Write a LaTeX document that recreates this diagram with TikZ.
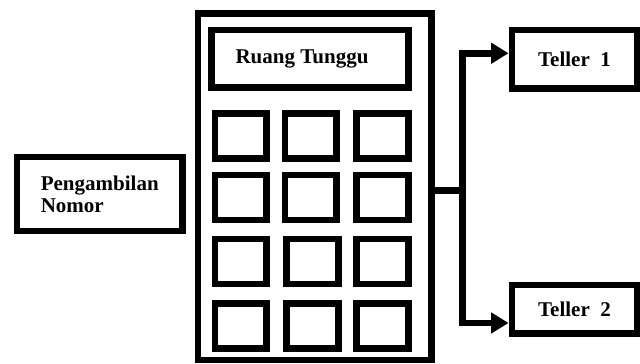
\documentclass[tikz,border=0pt]{standalone}
\usepackage{fontspec}
\setmainfont{Liberation Serif}
\usetikzlibrary{arrows.meta}
\tikzset{
  box/.style={draw, line width=5.2pt, rectangle, inner sep=0pt, font=\bfseries\fontsize{15.75}{16.5}\selectfont},
  cell/.style={draw, line width=4.9pt, rectangle, inner sep=0pt, minimum width=38.8pt, minimum height=33.75pt},
  conn/.style={line width=5.2pt},
  arr/.style={line width=5.2pt, -{Triangle[length=13pt,width=15pt]}}
}
\begin{document}
\begin{tikzpicture}[x=0.75pt,y=-0.75pt]
\useasboundingbox (0,0) rectangle (640,364);
% left box
\node[box, minimum width=124.1pt, minimum height=55.5pt, align=left] (ambil) at (99.75,194) {Pengambilan\\Nomor};
% big room
\node[box, minimum width=175.1pt, minimum height=259.9pt] (ruang) at (314.75,186.75) {};
\node[box, minimum width=147.75pt, minimum height=43.1pt] (tunggu) at (310,58.75) {Ruang Tunggu\hspace*{12pt}};
% seats
\node[cell] (c11) at (240.85,135.8) {};
\node[cell] (c12) at (310.85,135.8) {};
\node[cell] (c13) at (382.5,135.8) {};
\node[cell] (c21) at (240.85,197.5) {};
\node[cell] (c22) at (310.85,197.5) {};
\node[cell] (c23) at (382.5,197.5) {};
\node[cell] (c31) at (240.85,261.65) {};
\node[cell] (c32) at (312.5,261.65) {};
\node[cell] (c33) at (382.5,261.65) {};
\node[cell] (c41) at (240.85,325.8) {};
\node[cell] (c42) at (312.5,325.8) {};
\node[cell] (c43) at (382.5,325.8) {};
% tellers
\node[box, minimum width=93.75pt, minimum height=43.9pt] (t1) at (574.5,59.25) {Teller\ \ 1};
\node[box, minimum width=93.75pt, minimum height=36.4pt] (t2) at (574.5,309.25) {Teller\ \ 2};
% connectors
\coordinate (j) at (462.5,190.5);
\draw[conn] (ruang.east |- j) -- (j);
\draw[arr] (j) |- ([yshift=4.5pt]t1.west);
\draw[arr] (j) |- ([yshift=-10.3pt]t2.west);
\end{tikzpicture}
\end{document}
